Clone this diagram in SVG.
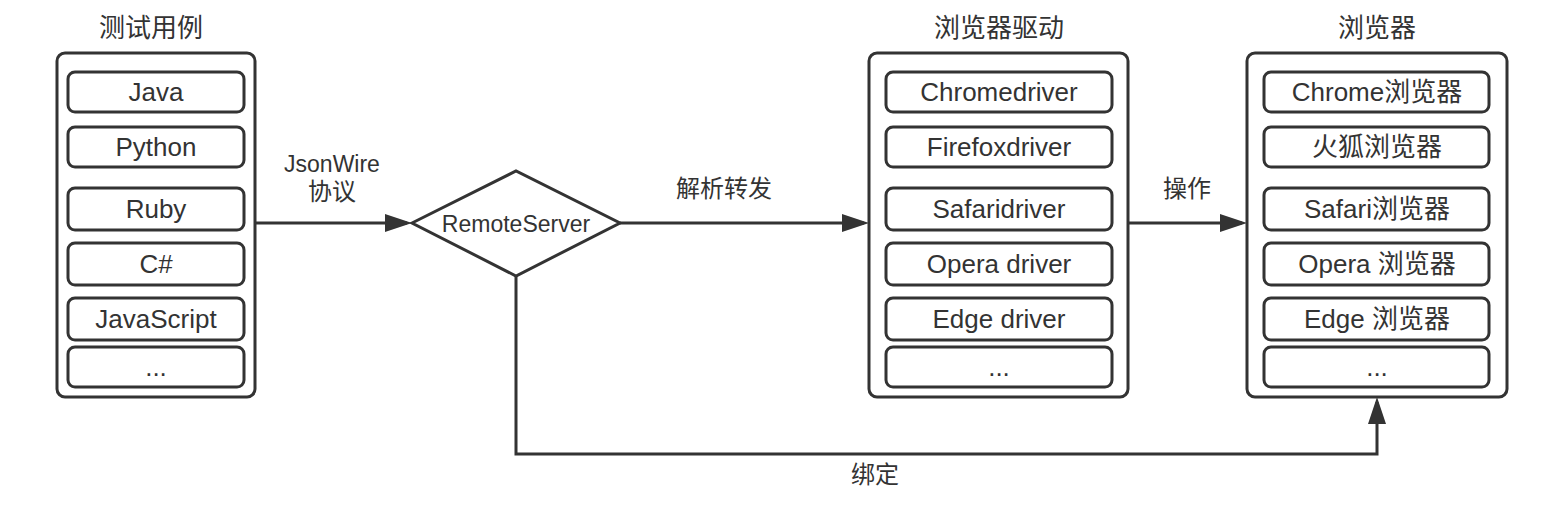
<svg xmlns="http://www.w3.org/2000/svg" width="1564" height="508" viewBox="0 0 1564 508">
<defs>
<marker id="ah" markerUnits="userSpaceOnUse" markerWidth="28" markerHeight="18" refX="22" refY="9" orient="auto">
<path d="M0,0 L27,9 L0,18 z" fill="#333"/>
</marker>
<style>
.outer{fill:#fff;stroke:#333;stroke-width:3}
.inner{fill:#fff;stroke:#333;stroke-width:3}
.t{font-family:"Liberation Sans","Noto Sans CJK SC",sans-serif;fill:#333;text-anchor:middle}
.lbl{font-size:26px}
.ttl{font-size:26px}
.al{font-size:24px}
.conn{fill:none;stroke:#333;stroke-width:3}
</style>
</defs>
<rect width="1564" height="508" fill="#fff"/>

<g id="testcases">
<text class="t ttl" x="151" y="37">测试用例</text>
<rect class="outer" x="57" y="53" width="198" height="344" rx="8"/>
<rect class="inner" x="68" y="72" width="176" height="40" rx="7"/>
<text class="t lbl" x="156" y="101">Java</text>
<rect class="inner" x="68" y="127" width="176" height="40" rx="7"/>
<text class="t lbl" x="156" y="156">Python</text>
<rect class="inner" x="68" y="188" width="176" height="42" rx="7"/>
<text class="t lbl" x="156" y="218">Ruby</text>
<rect class="inner" x="68" y="243" width="176" height="42" rx="7"/>
<text class="t lbl" x="156" y="273">C#</text>
<rect class="inner" x="68" y="298" width="176" height="42" rx="7"/>
<text class="t lbl" x="156" y="328">JavaScript</text>
<rect class="inner" x="68" y="347" width="176" height="40" rx="7"/>
<text class="t lbl" x="156" y="376">...</text>
</g>

<g id="remoteserver">
<polygon points="412,223 516,171 620,223 516,276" fill="#fff" stroke="#333" stroke-width="3"/>
<text class="t" style="font-size:23px" x="516" y="232">RemoteServer</text>
</g>

<g id="drivers">
<text class="t ttl" x="999" y="37">浏览器驱动</text>
<rect class="outer" x="869" y="53" width="259" height="344" rx="8"/>
<rect class="inner" x="886" y="72" width="226" height="40" rx="7"/>
<text class="t lbl" x="999" y="101">Chromedriver</text>
<rect class="inner" x="886" y="127" width="226" height="40" rx="7"/>
<text class="t lbl" x="999" y="156">Firefoxdriver</text>
<rect class="inner" x="886" y="188" width="226" height="42" rx="7"/>
<text class="t lbl" x="999" y="218">Safaridriver</text>
<rect class="inner" x="886" y="243" width="226" height="42" rx="7"/>
<text class="t lbl" x="999" y="273">Opera driver</text>
<rect class="inner" x="886" y="298" width="226" height="42" rx="7"/>
<text class="t lbl" x="999" y="328">Edge driver</text>
<rect class="inner" x="886" y="347" width="226" height="40" rx="7"/>
<text class="t lbl" x="999" y="376">...</text>
</g>

<g id="browsers">
<text class="t ttl" x="1377" y="37">浏览器</text>
<rect class="outer" x="1247" y="53" width="260" height="344" rx="8"/>
<rect class="inner" x="1264" y="72" width="225" height="40" rx="7"/>
<text class="t lbl" x="1377" y="101">Chrome浏览器</text>
<rect class="inner" x="1264" y="127" width="225" height="40" rx="7"/>
<text class="t lbl" x="1377" y="156">火狐浏览器</text>
<rect class="inner" x="1264" y="188" width="225" height="42" rx="7"/>
<text class="t lbl" x="1377" y="218">Safari浏览器</text>
<rect class="inner" x="1264" y="243" width="225" height="42" rx="7"/>
<text class="t lbl" x="1377" y="273">Opera 浏览器</text>
<rect class="inner" x="1264" y="298" width="225" height="42" rx="7"/>
<text class="t lbl" x="1377" y="328">Edge 浏览器</text>
<rect class="inner" x="1264" y="347" width="225" height="40" rx="7"/>
<text class="t lbl" x="1377" y="376">...</text>
</g>

<g id="connectors">
<path class="conn" d="M255,223 H407" marker-end="url(#ah)"/>
<path class="conn" d="M620,223 H864" marker-end="url(#ah)"/>
<path class="conn" d="M1128,223 H1242" marker-end="url(#ah)"/>
<path class="conn" d="M516,276 V454 H1377 V402" marker-end="url(#ah)"/>
<text class="t" style="font-size:23px" x="332" y="172">JsonWire</text>
<text class="t al" x="332" y="200">协议</text>
<text class="t al" x="724" y="197">解析转发</text>
<text class="t al" x="1187" y="197">操作</text>
<text class="t al" x="875" y="483">绑定</text>
</g>
</svg>
